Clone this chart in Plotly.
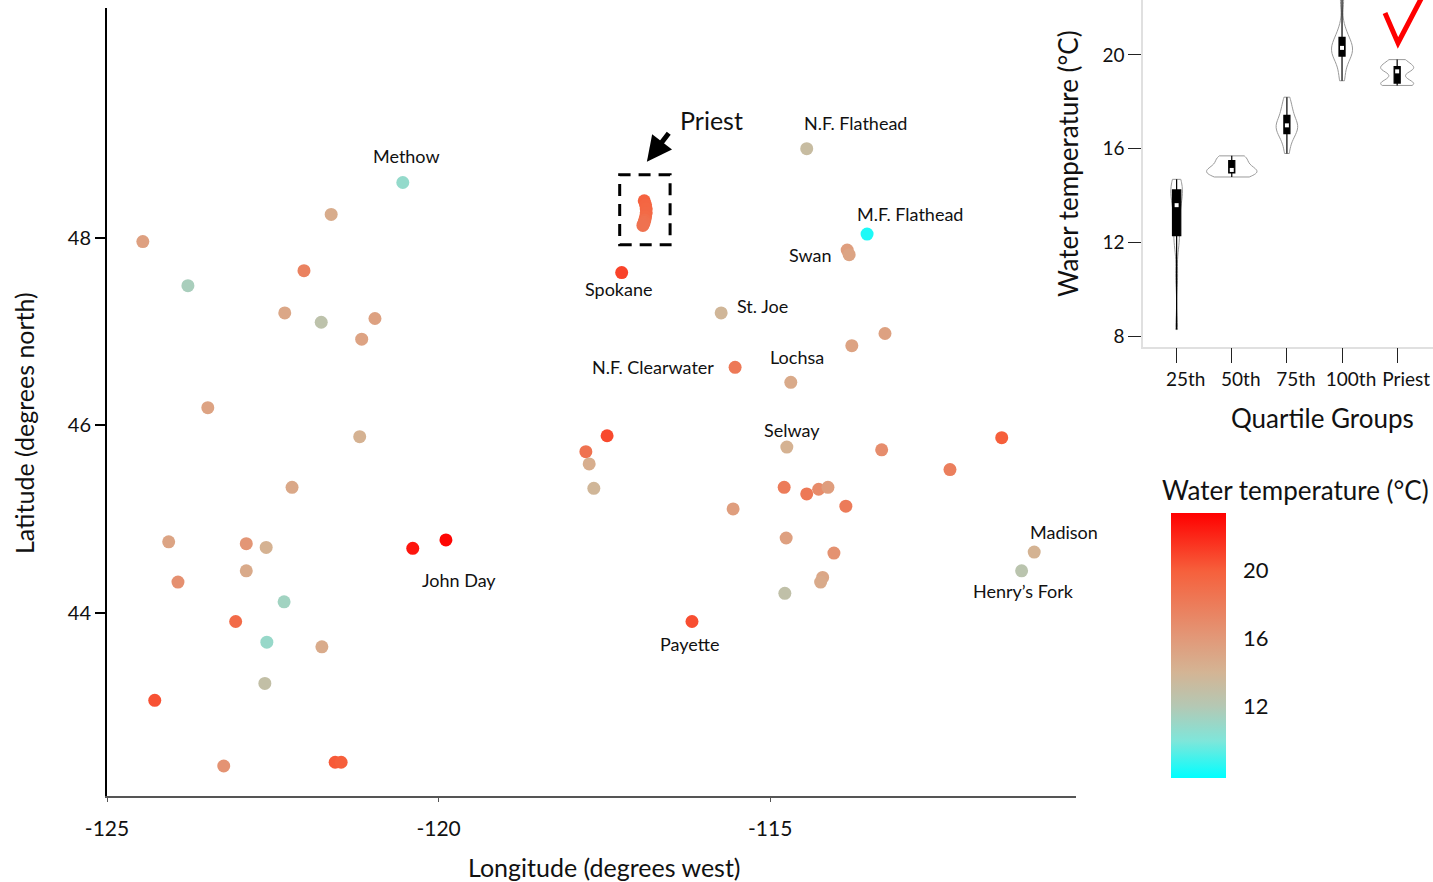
import numpy as np
import plotly.graph_objects as go

W, H = 1433, 882
FONT = "Lato, Carlito, 'Open Sans', sans-serif"

# ---------------------------------------------------------------------------
# Sampling sites: longitude, latitude and water temperature (°C)
# ---------------------------------------------------------------------------
site_lon = [-124.46, -123.78, -121.62, -120.54, -122.03, -122.32, -121.77, -120.96,
            -121.16, -123.48, -121.19, -122.21, -124.07, -122.90, -122.60, -122.90,
            -123.93, -122.33, -123.06, -122.59, -121.76, -122.62, -124.28, -123.24,
            -121.56, -121.47, -120.39, -119.89, -117.24, -115.74, -115.53, -113.77,
            -113.27, -114.69, -117.46, -117.78, -117.73, -117.66, -114.75, -113.32,
            -114.79, -114.45, -114.27, -114.13, -113.86, -115.56, -114.76, -114.04,
            -114.21, -114.24, -114.78, -116.18, -114.45, -113.54, -113.84, -113.81,
            -111.51, -112.29, -111.02, -111.21]
site_lat = [47.96, 47.49, 48.25, 48.59, 47.65, 47.20, 47.10, 47.14,
            46.92, 46.19, 45.88, 45.34, 44.76, 44.74, 44.70, 44.45,
            44.33, 44.12, 43.91, 43.69, 43.64, 43.25, 43.07, 42.37,
            42.41, 42.41, 44.69, 44.78, 47.63, 47.20, 46.62, 46.85,
            46.98, 46.46, 45.89, 45.72, 45.59, 45.33, 45.77, 45.74,
            45.34, 45.27, 45.32, 45.34, 45.14, 45.11, 44.80, 44.64,
            44.38, 44.33, 44.21, 43.91, 48.95, 48.04, 47.87, 47.82,
            45.87, 45.53, 44.65, 44.45]
site_temp = [15.5, 11.6, 14.6, 10.8, 17.6, 15.0, 12.6, 15.4,
             15.3, 15.3, 14.2, 14.9, 15.2, 16.2, 14.2, 14.8,
             16.6, 11.3, 19.2, 10.9, 14.7, 12.9, 20.5, 16.4,
             20.2, 20.0, 22.6, 23.2, 21.0, 13.8, 18.2, 15.3,
             15.4, 14.8, 20.8, 18.7, 14.5, 13.8, 14.2, 16.8,
             18.0, 18.3, 17.0, 15.7, 18.1, 15.6, 15.5, 16.5,
             15.0, 14.8, 12.8, 20.6, 13.2, 8.3, 15.6, 15.2,
             20.0, 17.8, 14.1, 12.4]

# Priest River sites
priest_lon = [-116.90, -116.88, -116.87, -116.87, -116.88, -116.89, -116.90, -116.91, -116.92]
priest_lat = [48.395, 48.352, 48.309, 48.267, 48.224, 48.190, 48.165, 48.149, 48.132]
priest_temp = [19.8, 19.6, 19.5, 19.4, 19.3, 19.0, 18.8, 18.75, 18.7]

# River name labels
river_names = ["Methow", "N.F. Flathead", "M.F. Flathead", "Swan", "Spokane", "St. Joe",
               "N.F. Clearwater", "Lochsa", "Selway", "John Day", "Payette",
               "Madison", "Henry’s Fork"]
river_lon = [-120.48, -113.72, -112.89, -114.40, -117.28, -115.11,
             -116.77, -114.60, -114.67, -119.69, -116.21, -110.57, -111.18]
river_lat = [48.875, 49.227, 48.256, 47.819, 47.456, 47.275,
             46.624, 46.731, 45.952, 44.352, 43.669, 44.864, 44.235]

# ---------------------------------------------------------------------------
# Temperature distributions by quartile group (°C)
# ---------------------------------------------------------------------------
groups = ["25th", "50th", "75th", "100th", "Priest"]
temp_25th = [8.3, 10.6, 11.8, 12.2, 12.4, 12.9, 13.3, 13.6, 13.8, 14.0, 14.2, 14.3, 14.4, 14.6, 14.7]
temp_50th = [14.8, 14.85, 14.9, 14.95, 15.0, 15.05, 15.1, 15.1, 15.15, 15.2, 15.45, 15.55, 15.6, 15.65, 15.7]
temp_75th = [15.8, 16.2, 16.5, 16.6, 16.7, 16.85, 16.95, 17.0, 17.05, 17.15, 17.3, 17.55, 17.65, 17.9, 18.2]
temp_100th = [18.9, 19.3, 19.7, 19.9, 20.0, 20.1, 20.2, 20.3, 20.4, 20.5, 20.7, 20.8, 21.2, 22.3, 23.2]
group_samples = [temp_25th, temp_50th, temp_75th, temp_100th, sorted(priest_temp)]

# Per-group violin style: max width (category units), kernel bandwidth, inner box width
violin_width = [0.21, 0.91, 0.39, 0.38, 0.6]
violin_bw = [0.45, 0.22, 0.3, 0.35, 0.15]
box_width = [0.15, 0.11, 0.11, 0.11, 0.11]

TEMP_MIN, TEMP_MAX = 7.8, 23.4
colorscale = [
    [0.00, "#00ffff"],
    [0.14, "#7fe6da"],
    [0.27, "#b4c8b4"],
    [0.40, "#d4b494"],
    [0.53, "#e29878"],
    [0.78, "#f6603c"],
    [1.00, "#ff0000"],
]

# Colorbar geometry (pixels)
CB_LEFT, CB_TOP, CB_LEN, CB_THICK = 1171, 513, 265, 55
cb_ticks = [12, 16, 20]


def px_x(px):
    return px / W


def px_y(py):
    return 1 - py / H


fig = go.Figure()

# Map of sampling sites
fig.add_trace(go.Scatter(
    x=site_lon + priest_lon,
    y=site_lat + priest_lat,
    mode="markers",
    marker=dict(
        size=13,
        color=site_temp + priest_temp,
        colorscale=colorscale,
        cmin=TEMP_MIN, cmax=TEMP_MAX,
        line=dict(width=0),
        showscale=True,
        colorbar=dict(
            x=px_x(CB_LEFT), xanchor="left",
            y=px_y(CB_TOP), yanchor="top",
            len=CB_LEN, lenmode="pixels",
            thickness=CB_THICK, thicknessmode="pixels",
            xpad=0, ypad=0, outlinewidth=0,
            tickvals=cb_ticks,
            ticks="outside", ticklen=13, tickcolor="rgba(0,0,0,0)",
            tickfont=dict(family=FONT, size=22, color="#111"),
        ),
    ),
    hoverinfo="skip",
    xaxis="x", yaxis="y",
))

# Violins by quartile group
for g, s, vw, bw in zip(groups, group_samples, violin_width, violin_bw):
    fig.add_trace(go.Violin(
        x=[g] * len(s), y=s,
        width=vw, bandwidth=bw,
        scalemode="width", spanmode="hard",
        points=False,
        fillcolor="white",
        line=dict(color="#9a9a9a", width=1),
        box=dict(visible=False), meanline=dict(visible=False),
        hoverinfo="skip",
        xaxis="x2", yaxis="y2",
    ))

# Inner boxes with whiskers from min to max, and white median markers
medians = []
for g, s, bxw in zip(groups, group_samples, box_width):
    arr = np.array(s)
    q1, med, q3 = np.percentile(arr, [25, 50, 75])
    medians.append(med)
    fig.add_trace(go.Box(
        x=[g], q1=[q1], median=[med], q3=[q3],
        lowerfence=[arr.min()], upperfence=[arr.max()],
        width=bxw, whiskerwidth=0,
        fillcolor="black", line=dict(color="black", width=1.2),
        boxpoints=False, hoverinfo="skip",
        xaxis="x2", yaxis="y2",
    ))

fig.add_trace(go.Scatter(
    x=groups, y=medians, mode="markers",
    marker=dict(symbol="square", size=4, color="white"),
    hoverinfo="skip", xaxis="x2", yaxis="y2",
))

annotations = []
# River labels
for name, lo, la in zip(river_names, river_lon, river_lat):
    annotations.append(dict(x=lo, y=la, xref="x", yref="y", text=name, showarrow=False,
                            xanchor="center", yanchor="middle",
                            font=dict(family=FONT, size=18, color="#111")))

# Priest label and arrow
annotations.append(dict(x=-115.88, y=49.259, xref="x", yref="y", text="Priest", showarrow=False,
                        xanchor="center", yanchor="middle",
                        font=dict(family=FONT, size=25, color="#111")))
annotations.append(dict(x=-116.86, y=48.811, xref="x", yref="y", text="", showarrow=True,
                        ax=23, ay=-30, arrowhead=2, arrowsize=1.0, arrowwidth=5,
                        arrowcolor="black"))


def paper_label(px, py, text, size, angle=0):
    return dict(x=px_x(px), y=px_y(py), xref="paper", yref="paper", text=text,
                textangle=angle, showarrow=False, xanchor="center", yanchor="middle",
                font=dict(family=FONT, size=size, color="#111"))


# Axis titles
annotations += [
    paper_label(604, 867, "Longitude (degrees west)", 25),
    paper_label(24, 423, "Latitude (degrees north)", 25, -90),
    paper_label(1068, 164, "Water temperature (°C)", 26, -90),
    paper_label(1322, 418, "Quartile Groups", 26),
    paper_label(1295, 490, "Water temperature (°C)", 26),
]

shapes = []
# Dashed box around Priest sites
shapes.append(dict(type="rect", xref="x", yref="y", x0=-117.27, x1=-116.51, y0=47.925, y1=48.672,
                   line=dict(color="black", width=3, dash="12px,8px")))

# White tick dashes on both edges of the colorbar
for v in cb_ticks:
    py = CB_TOP + (TEMP_MAX - v) / (TEMP_MAX - TEMP_MIN) * CB_LEN
    for x0, x1 in [(CB_LEFT + 1, CB_LEFT + 10), (CB_LEFT + CB_THICK - 10, CB_LEFT + CB_THICK - 1)]:
        shapes.append(dict(type="line", xref="paper", yref="paper",
                           x0=px_x(x0), x1=px_x(x1), y0=px_y(py), y1=px_y(py),
                           line=dict(color="white", width=2)))

# Red check mark above the Priest group
shapes.append(dict(type="path", xref="paper", yref="paper",
                   path=f"M {px_x(1385)} {px_y(13)} L {px_x(1398)} {px_y(43)} L {px_x(1422)} {px_y(-3)}",
                   line=dict(color="#ff0000", width=5)))

fig.update_layout(
    width=W, height=H,
    margin=dict(l=0, r=0, t=0, b=0, autoexpand=False),
    paper_bgcolor="white", plot_bgcolor="white",
    showlegend=False,
    font=dict(family=FONT, color="#111"),
    violinmode="overlay", boxmode="overlay",
    annotations=annotations,
    shapes=shapes,
    xaxis=dict(
        domain=[px_x(107), px_x(1076)], range=[-125.0, -110.39], anchor="y",
        tickvals=[-125, -120, -115], ticktext=["-125", "-120", "-115"],
        showgrid=False, zeroline=False, automargin=False,
        showline=True, linecolor="#555", linewidth=1.5,
        ticks="outside", ticklen=4, tickcolor="#555", tickwidth=1,
        ticklabelstandoff=9,
        tickfont=dict(family=FONT, size=21, color="#111"),
    ),
    yaxis=dict(
        domain=[px_y(796), px_y(8)], range=[42.05, 50.45], anchor="x",
        tickvals=[44, 46, 48],
        showgrid=False, zeroline=False, automargin=False,
        showline=True, linecolor="black", linewidth=2,
        ticks="outside", ticklen=10, tickcolor="black", tickwidth=1.5,
        tickfont=dict(family=FONT, size=20, color="#111"),
    ),
    xaxis2=dict(
        domain=[px_x(1143), 1.0], anchor="y2",
        type="category", categoryorder="array", categoryarray=groups,
        range=[-0.61, 4.65],
        showgrid=False, zeroline=False, automargin=False,
        showline=True, linecolor="#e0e0e0", linewidth=1.5,
        ticks="outside", ticklen=15, tickcolor="#222", tickwidth=1,
        ticklabelshift=9, ticklabelstandoff=0,
        tickfont=dict(family=FONT, size=19, color="#111"),
    ),
    yaxis2=dict(
        domain=[px_y(346.7), 1.0], anchor="x2",
        range=[7.57, 22.34], tickvals=[8, 12, 16, 20],
        showgrid=False, zeroline=False, automargin=False,
        showline=True, linecolor="#e0e0e0", linewidth=1.5,
        ticks="outside", ticklen=13, tickcolor="#222", tickwidth=1,
        tickfont=dict(family=FONT, size=19, color="#111"),
    ),
)

fig.write_html("out.html")
